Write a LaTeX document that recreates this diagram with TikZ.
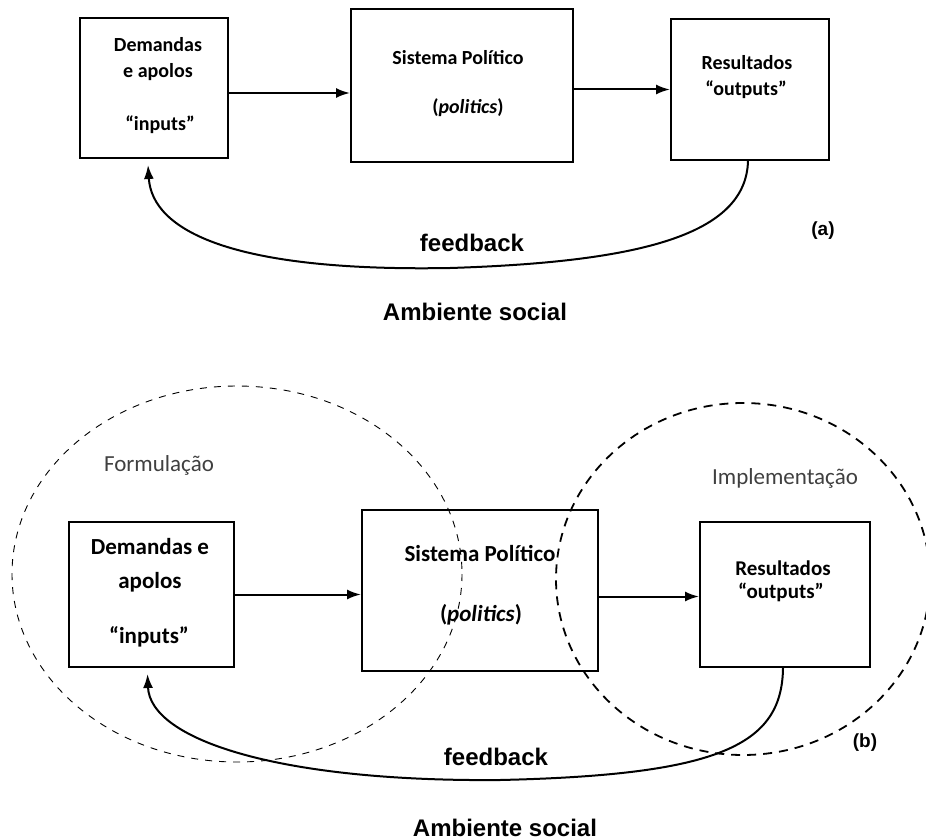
\documentclass[tikz,border=0pt]{standalone}
\usepackage{fontspec}
\setmainfont{Liberation Sans}
\newfontfamily\calfont{Carlito}
\newfontfamily\arialfont{Liberation Sans}
\usetikzlibrary{arrows.meta}
\begin{document}
\begin{tikzpicture}[x=1pt,y=-1pt,
  box/.style={draw, line width=2pt, inner sep=0pt},
  bts/.style={font=\calfont\bfseries\fontsize{20}{22}\selectfont, inner sep=0pt, anchor=center},
  btl/.style={font=\calfont\bfseries\fontsize{23}{26}\selectfont, inner sep=0pt, anchor=center},
  btc/.style={font=\calfont\bfseries\fontsize{21}{24}\selectfont, inner sep=0pt, anchor=center},
  lab/.style={font=\arialfont\bfseries\fontsize{24}{28}\selectfont, inner sep=0pt},
  tag/.style={font=\arialfont\bfseries\fontsize{19}{21}\selectfont, inner sep=0pt},
  phase/.style={font=\calfont\fontsize{23}{26}\selectfont, text=black!75, inner sep=0pt},
  arr/.style={line width=2pt, -{Latex[length=14pt,width=10pt]}},
  thindash/.style={line width=0.9pt, dash pattern=on 7pt off 7pt},
  thickdash/.style={line width=1.8pt, dash pattern=on 9pt off 7pt}
]
\useasboundingbox (0,0) rectangle (926,840);

% ---------------- (a) ----------------
\node[box, minimum width=148pt, minimum height=140pt] (A) at (154,88) {};
\node[box, minimum width=222pt, minimum height=153pt] (B) at (462,85.5) {};
\node[box, minimum width=158pt, minimum height=141pt] (C) at (750,89.5) {};

\node[bts] (a1) at (158,45) {Demandas};
\node[bts] (a2) at (158,72) {e apolos};
\node[bts] (a3) at (160,125) {“inputs”};
\node[bts] (b1) at (458,58) {Sistema Político};
\node[bts] (b2) at (468,108) {(\textit{politics})};
\node[bts] (c1) at (747,63) {Resultados};
\node[bts] (c2) at (746,90) {“outputs”};

\draw[arr] ([yshift=-5pt]A.east) -- ([yshift=-5pt]A.east -| B.west);
\draw[arr] (B.east |- C.west) -- (C.west);
\draw[arr] ([xshift=-2pt]C.south) .. controls (746,235) and (640,262) .. (450,268)
  .. controls (230,272) and (152,230) .. ([xshift=-6pt,yshift=-6pt]A.south);

\node[lab] (fa) at (472,243) {feedback};
\node[tag] (ta) at (823,231) {(a)};
\node[lab] (ea) at (475,312) {Ambiente social};

% ---------------- (b) ----------------
\draw[thindash] (237,574) ellipse [x radius=225, y radius=188];
\draw[thickdash] (743,579) ellipse [x radius=187, y radius=176];

\node[phase] (f) at (159,465) {Formulação};
\node[phase] (im) at (785,478) {Implementação};

\node[box, minimum width=165pt, minimum height=145pt] (A2) at (151.5,594.5) {};
\node[box, minimum width=236pt, minimum height=161pt] (B2) at (480,590.5) {};
\node[box, minimum width=170pt, minimum height=145pt] (C2) at (785,594.5) {};

\node[btl] (d1) at (150,547) {Demandas e};
\node[btl] (d2) at (150,582) {apolos};
\node[btl] (d3) at (149,637) {“inputs”};
\node[btl] (e1) at (480,553) {Sistema Político};
\node[btl] (e2) at (481,615) {(\textit{politics})};
\node[btc] (g1) at (783,568) {Resultados};
\node[btc] (g2) at (781,592) {“outputs”};

\draw[arr] (A2.east) -- (A2.east -| B2.west);
\draw[arr] ([yshift=-2pt]B2.east |- C2.west) -- ([yshift=-2pt]C2.west);
\draw[arr] ([xshift=-2pt]C2.south) .. controls (782,745) and (720,775) .. (500,780)
  .. controls (280,782) and (150,740) .. ([xshift=-4pt,yshift=-6pt]A2.south);

\node[lab] (fb) at (496,757) {feedback};
\node[tag] (tb) at (865,743) {(b)};
\node[lab] (eb) at (505,828) {Ambiente social};
\end{tikzpicture}
\end{document}
